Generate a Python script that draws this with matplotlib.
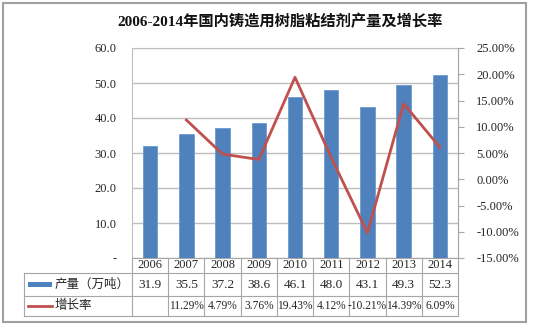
import matplotlib
matplotlib.use("Agg")
import matplotlib.pyplot as plt
import matplotlib.transforms as mtransforms
from matplotlib.lines import Line2D
from matplotlib.patches import Rectangle

plt.rcParams['font.family'] = ['Liberation Serif', 'Noto Sans CJK SC', 'DejaVu Sans']

years = ["2006", "2007", "2008", "2009", "2010", "2011", "2012", "2013", "2014"]
output = [31.9, 35.5, 37.2, 38.6, 46.1, 48.0, 43.1, 49.3, 52.3]
growth = [None, 11.29, 4.79, 3.76, 19.43, 4.12, -10.21, 14.39, 6.09]
left_ticks = [0, 10, 20, 30, 40, 50, 60]
right_ticks = [-15, -10, -5, 0, 5, 10, 15, 20, 25]

title = "2006-2014年国内铸造用树脂粘结剂产量及增长率"
bar_label = "产量（万吨）"
line_label = "增长率"

BLUE = "#4F81BD"
RED = "#C0504D"
GRID = "#BFBFBF"
TBL = "#A6A6A6"
TXT = "#262626"

W, H = 533, 328
fig = plt.figure(figsize=(W / 100, H / 100), dpi=100)


def fx(px):
    return px / W


def fy(py):
    return 1 - py / H


# plot area in pixels
x0, x1, y0, y1 = 132, 458, 48, 258
ax = fig.add_axes([fx(x0), fy(y1), fx(x1) - fx(x0), fy(y0) - fy(y1)])
ax2 = ax.twinx()

xs = list(range(len(years)))
ax.bar(xs, output, width=0.4, color=BLUE, edgecolor="#6E9AD0", linewidth=0.6, zorder=3)
ax.set_xlim(-0.5, len(years) - 0.5)
ax.set_ylim(0, 60)
ax.set_yticks(left_ticks)
ax.set_yticklabels(["-" if v == 0 else f"{v:.1f}" for v in left_ticks])
ax.tick_params(axis="y", length=0, pad=11, labelsize=9, colors=TXT)
ax.set_xticks([])
ax.grid(axis="y", color=GRID, linewidth=1, zorder=0)
ax.set_axisbelow(True)
for s in ["left", "right", "top", "bottom"]:
    ax.spines[s].set_color(GRID)
ax.spines["bottom"].set_color(TBL)

gx = [i for i, g in enumerate(growth) if g is not None]
gy = [g for g in growth if g is not None]
ax2.plot(gx, gy, color=RED, linewidth=2, zorder=4)
ax2.set_ylim(-15, 25)
ax2.set_yticks(right_ticks)
ax2.set_yticklabels([f"{v:.2f}%" for v in right_ticks])
ax2.tick_params(axis="y", length=4, pad=9, labelsize=9, colors=TXT)
ax2.tick_params(axis="y", color=TBL)
for s in ["left", "right", "top", "bottom"]:
    ax2.spines[s].set_visible(False)
ax2.spines["right"].set_visible(True)
ax2.spines["right"].set_color(TBL)

# data table below the axes
tr = mtransforms.blended_transform_factory(ax.transData, ax.transAxes)


def ay(py):
    return (y1 - py) / (y1 - y0)


r0, r1, r2, r3 = 258, 273, 296, 316
leg_left = (24 - x0) / ((x1 - x0) / len(years)) - 0.5
for k in range(len(years) + 1):
    ax.add_line(Line2D([k - 0.5, k - 0.5], [ay(r0), ay(r3)], transform=tr,
                       color=TBL, linewidth=0.8, clip_on=False))
ax.add_line(Line2D([leg_left, leg_left], [ay(r1), ay(r3)], transform=tr,
                   color=TBL, linewidth=0.8, clip_on=False))
for r in [r1, r2, r3]:
    ax.add_line(Line2D([leg_left, len(years) - 0.5], [ay(r), ay(r)], transform=tr,
                       color=TBL, linewidth=0.8, clip_on=False))

for i, yr in enumerate(years):
    ax.text(i, ay((r0 + r1) / 2), yr, transform=tr, ha="center", va="center",
            fontsize=9, color=TXT)
    ax.text(i, ay((r1 + r2) / 2), f"{output[i]:.1f}", transform=tr, ha="center",
            va="center", fontsize=9.5, color=TXT)
    if growth[i] is not None:
        ax.text(i, ay((r2 + r3) / 2), f"{growth[i]:.2f}%", transform=tr, ha="center",
                va="center", fontsize=8.3, color=TXT)

# legend keys inside the table
fig.add_artist(Rectangle((fx(28), fy(286.5)), fx(52) - fx(28), fy(282) - fy(286.5),
                         transform=fig.transFigure, facecolor=BLUE, edgecolor="none"))
fig.add_artist(Line2D([fx(28), fx(52)], [fy(305.5), fy(305.5)], transform=fig.transFigure,
                      color=RED, linewidth=2))
fig.text(fx(55), fy((r1 + r2) / 2), bar_label, ha="left", va="center", fontsize=9,
         color=TXT, family=['Noto Sans CJK SC', 'DejaVu Sans'])
fig.text(fx(55), fy((r2 + r3) / 2), line_label, ha="left", va="center", fontsize=9,
         color=TXT, family=['Noto Sans CJK SC', 'DejaVu Sans'])

fig.text(fx(280), fy(22), title, ha="center", va="center", fontsize=11,
         fontweight="bold", color="#111111")

# outer frame
fig.add_artist(Rectangle((fx(3), fy(322)), fx(526) - fx(3), fy(3) - fy(322),
                         transform=fig.transFigure, facecolor="none",
                         edgecolor="#A0A0A0", linewidth=1.5))

fig.savefig("out.png", dpi=100)
